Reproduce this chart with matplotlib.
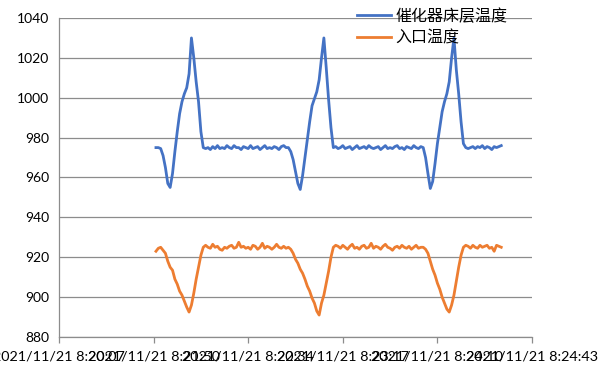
import numpy as np
import matplotlib
matplotlib.use("Agg")
import matplotlib.pyplot as plt

plt.rcParams['font.family'] = ['Lato', 'Noto Sans CJK SC', 'DejaVu Sans']

# tick labels on the category axis (one every 40 samples)
tick_labels = ["2021/11/21 8:20:07", "2021/11/21 8:21:50", "2021/11/21 8:22:34",
               "2021/11/21 8:23:17", "2021/11/21 8:24:10", "2021/11/21 8:24:43"]
samples_per_tick = 40
first_sample = 41

# 催化器床层温度 (bed temperature)
bed_cycle1 = [975, 975, 974.5, 971, 965, 957, 955, 962, 973, 983, 992, 998, 1002, 1005,
              1012, 1030, 1020, 1008, 998, 983, 975]
bed_flat1 = [974.5, 975, 974, 975.5, 974.5, 976, 974.5, 975, 974.5, 976,
             975, 974.5, 976, 975, 975, 974, 975.5, 975, 974.5, 976,
             974.5, 975, 975.5, 974, 975, 976, 974.5, 975, 974.5, 975.5,
             975, 974, 975.5, 976, 975]
bed_cycle2 = [975, 973, 969, 963, 957, 954, 961, 970, 979, 988, 996, 999.5, 1003, 1009,
              1020, 1030, 1015, 999, 985, 975]
bed_flat2 = [975.5, 974.5, 975, 976, 974.5, 975, 975.5, 974, 975, 976,
             974.5, 975, 975.5, 974.5, 976, 975, 974.5, 975, 975.5, 974,
             975, 976, 974.5, 975, 974.5, 975.5, 976, 974.5, 975, 974,
             975.5, 975, 974.5, 976, 975, 974.5, 975.5, 975]
bed_cycle3 = [970, 962, 954.5, 958, 967, 977, 985, 993, 998, 1002, 1008, 1020, 1030,
              1014, 1002, 988, 977, 975]
bed_flat3 = [974.5, 975, 975.5, 974.5, 975.5, 975, 976, 974.5, 975.5, 975, 974, 975.5,
             975, 975.5, 976]

# 入口温度 (inlet temperature)
inlet_cycle1 = [923, 924.5, 925, 923.5, 922, 918, 915, 913.5, 909, 906.5, 903, 901, 898,
                895, 892.5, 896, 902, 909, 915, 921, 925, 926]
inlet_flat1 = [925, 924.5, 926.5, 925, 925.5, 924, 923.5, 925, 924.5, 925.5,
               926, 924.5, 925, 927.5, 925, 925.5, 924.5, 925, 924, 926,
               925.5, 924, 925, 927, 924.5, 925.5, 925, 924, 925, 926.5,
               925, 924.5, 925.5, 924.5, 925]
inlet_cycle2 = [924, 922, 919, 917, 914, 912, 909, 905.5, 903, 899.5, 897, 893, 891, 897,
                901, 907, 913, 920, 925, 926]
inlet_flat2 = [925.5, 924.5, 926, 925, 924, 925.5, 926.5, 924.5, 925, 924,
               925.5, 926, 924.5, 925, 927, 924.5, 925.5, 925, 924, 925.5,
               926.5, 925, 924.5, 923.5, 925, 925.5, 924.5, 926, 925, 924.5,
               925.5, 924, 925, 926, 924.5, 925]
inlet_cycle3 = [925, 924, 922, 918, 914, 911, 907, 904, 900, 897, 894, 892.5, 896, 901,
                908, 915, 921, 925, 926]
inlet_flat3 = [925.5, 924.5, 926, 925, 924.5, 926, 925, 925.5, 926, 924.5, 925, 923,
               926, 925.5, 925]

bed = bed_cycle1 + bed_flat1 + bed_cycle2 + bed_flat2 + bed_cycle3 + bed_flat3
inlet = inlet_cycle1 + inlet_flat1 + inlet_cycle2 + inlet_flat2 + inlet_cycle3 + inlet_flat3
x_bed = first_sample + np.arange(len(bed))
x_inlet = first_sample + np.arange(len(inlet))

fig = plt.figure(figsize=(6.01, 3.92), dpi=100)
ax = fig.add_axes([59/601, 1-337/392, (532-59)/601, (337-18)/392])

grid_c = '#8c8c8c'
ax.plot(x_bed, bed, color='#4472C4', lw=2.0, label='催化器床层温度', solid_joinstyle='round')
ax.plot(x_inlet, inlet, color='#ED7D31', lw=2.0, label='入口温度', solid_joinstyle='round')

ax.set_ylim(880, 1040)
ax.set_yticks(np.arange(880, 1041, 20))
nt = len(tick_labels)
ax.set_xlim(0, samples_per_tick * (nt - 1))
ax.set_xticks(np.arange(nt) * samples_per_tick)
ax.set_xticklabels(tick_labels)
ax.grid(axis='y', color=grid_c, lw=0.9)
ax.set_axisbelow(True)
for s in ['top', 'right']:
    ax.spines[s].set_visible(False)
ax.spines['left'].set_color(grid_c)
ax.spines['bottom'].set_color(grid_c)
ax.spines['left'].set_linewidth(0.9)
ax.spines['bottom'].set_linewidth(0.9)
ax.tick_params(axis='y', length=0, pad=7, labelsize=10, colors='black')
ax.tick_params(axis='x', length=4, width=0.9, color=grid_c, pad=6, labelsize=10.4, labelcolor='black')

ax.legend(loc='upper left', bbox_to_anchor=(357/601, 1-8/392), bbox_transform=fig.transFigure,
          frameon=False, handlelength=2.1, handletextpad=0.3,
          labelspacing=0.3, borderpad=0, borderaxespad=0,
          prop={'family': ['Noto Sans CJK SC'], 'size': 11.5})

fig.savefig('out.png', dpi=100)
